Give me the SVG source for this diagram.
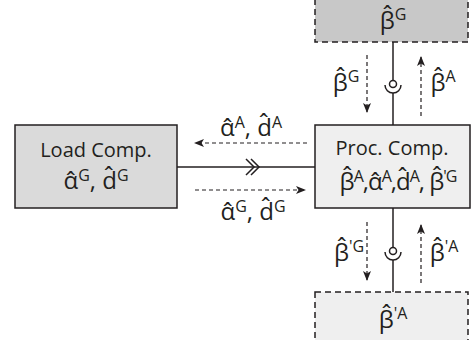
<svg xmlns="http://www.w3.org/2000/svg" width="472" height="340" viewBox="0 0 472 340">
<style>
text{font-family:"Open Sans","Liberation Sans",sans-serif;fill:#231f20;text-anchor:middle}
.t{font-size:20px}
.m{font-size:24px}
.s{font-size:16px}
.box{stroke:#231f20;stroke-width:1.5}
.dbox{stroke:#231f20;stroke-width:1.5;stroke-dasharray:6 4}
.ln{stroke:#231f20;stroke-width:1.5;fill:none}
.da{stroke:#231f20;stroke-width:1.2;stroke-dasharray:4 3;fill:none;marker-end:url(#ah)}
</style>
<defs>
<marker id="ah" markerWidth="10" markerHeight="8" refX="9" refY="4" orient="auto" markerUnits="userSpaceOnUse"><path d="M0,0 L10,4 L0,8 L2.5,4 z" fill="#231f20"/></marker>
</defs>
<g id="top">
<rect class="dbox" x="315" y="-5" width="153" height="47" fill="#c8c8c8"/>
<text class="m" x="393" y="29">β̂<tspan class="s" dy="-9">G</tspan></text>
</g>
<g id="bottom">
<rect class="dbox" x="315" y="292" width="153" height="55" fill="#efefef"/>
<text class="m" x="393" y="328">β̂<tspan class="s" dy="-9">'A</tspan></text>
</g>
<g id="load">
<rect class="box" x="15" y="125" width="162" height="83" fill="#dadada"/>
<text class="t" x="96" y="157">Load Comp.</text>
<text class="m" x="96" y="189">α̂<tspan class="s" dy="-8">G</tspan><tspan dy="8">, d̂</tspan><tspan class="s" dy="-8">G</tspan></text>
</g>
<g id="proc">
<rect class="box" x="315" y="125" width="155" height="83" fill="#efefef"/>
<text class="t" x="392" y="155">Proc. Comp.</text>
<text class="m" x="398" y="190" font-size="23" letter-spacing="-1">β̂<tspan class="s" dy="-8">A</tspan><tspan dy="8">,α̂</tspan><tspan class="s" dy="-8">A</tspan><tspan dy="8">,d̂</tspan><tspan class="s" dy="-8">A</tspan><tspan dy="8">, β̂</tspan><tspan class="s" dy="-8">'G</tspan></text>
</g>
<g id="connectors">
<line class="ln" x1="177" y1="167" x2="315" y2="167"/>
<polyline class="ln" points="246,159 254,167 246,175"/>
<polyline class="ln" points="251,159 259,167 251,175"/>
<line class="ln" x1="393" y1="42" x2="393" y2="80.5"/>
<circle class="ln" cx="393" cy="84" r="3.5"/>
<path class="ln" d="M385,85 A8,8 0 0 0 401,85"/>
<line class="ln" x1="393" y1="93" x2="393" y2="125"/>
<line class="ln" x1="393" y1="208" x2="393" y2="247.5"/>
<circle class="ln" cx="393" cy="251" r="3.5"/>
<path class="ln" d="M385,252 A8,8 0 0 0 401,252"/>
<line class="ln" x1="393" y1="260" x2="393" y2="292"/>
<line class="da" x1="307" y1="143" x2="195" y2="143"/>
<line class="da" x1="195" y1="190" x2="305" y2="190"/>
<line class="da" x1="367" y1="55" x2="367" y2="112"/>
<line class="da" x1="421" y1="116" x2="421" y2="57"/>
<line class="da" x1="367" y1="222" x2="367" y2="280"/>
<line class="da" x1="421" y1="283" x2="421" y2="225"/>
</g>
<g id="labels">
<text class="m" x="251" y="136">α̂<tspan class="s" dy="-8">A</tspan><tspan dy="8">, d̂</tspan><tspan class="s" dy="-8">A</tspan></text>
<text class="m" x="253" y="220">α̂<tspan class="s" dy="-8">G</tspan><tspan dy="8">, d̂</tspan><tspan class="s" dy="-8">G</tspan></text>
<text class="m" x="346" y="91">β̂<tspan class="s" dy="-9">G</tspan></text>
<text class="m" x="443" y="91">β̂<tspan class="s" dy="-9">A</tspan></text>
<text class="m" x="349" y="261">β̂<tspan class="s" dy="-9">'G</tspan></text>
<text class="m" x="444" y="261">β̂<tspan class="s" dy="-9">'A</tspan></text>
</g>
</svg>
